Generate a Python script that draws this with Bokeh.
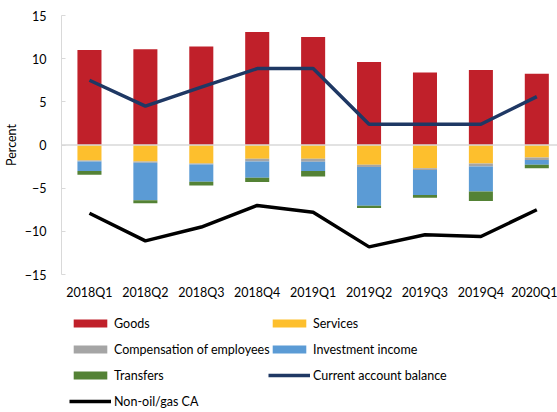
from bokeh.plotting import figure
from bokeh.layouts import column
from bokeh.models import Range1d, FixedTicker, Span, Legend, LegendItem, ColumnDataSource
from bokeh.embed import file_html
from bokeh.resources import INLINE

quarters = ["2018Q1", "2018Q2", "2018Q3", "2018Q4", "2019Q1",
            "2019Q2", "2019Q3", "2019Q4", "2020Q1"]
goods = [11.0, 11.1, 11.4, 13.1, 12.5, 9.6, 8.4, 8.7, 8.25]
services = [-1.8, -1.9, -2.15, -1.6, -1.6, -2.3, -2.7, -2.15, -1.45]
compensation = [-0.1, -0.15, -0.1, -0.3, -0.35, -0.25, -0.2, -0.35, -0.3]
investment = [-1.1, -4.35, -2.0, -1.9, -1.05, -4.5, -2.9, -2.9, -0.55]
transfers = [-0.45, -0.35, -0.45, -0.5, -0.65, -0.25, -0.3, -1.1, -0.4]
ca_balance = [7.5, 4.5, 6.7, 8.85, 8.85, 2.4, 2.4, 2.4, 5.6]
non_oil_ca = [-7.9, -11.1, -9.5, -7.0, -7.8, -11.8, -10.4, -10.6, -7.5]
y_ticks = [-15, -10, -5, 0, 5, 10, 15]

C_GOODS, C_SERV, C_COMP, C_INV, C_TRANS = "#C0202A", "#FDBF2D", "#A5A5A5", "#5B9BD5", "#548235"
C_CA, C_NO = "#1F3864", "#000000"
FONT = "Lato"
FS = "12.5px"

x = list(range(len(quarters)))
src = ColumnDataSource(dict(x=x, goods=goods, services=services,
                            compensation=compensation, investment=investment,
                            transfers=transfers, ca=ca_balance, nonoil=non_oil_ca))

p = figure(width=557, height=304, x_range=Range1d(-0.5, 8.37), y_range=Range1d(-15, 15),
           output_backend="svg", toolbar_location=None,
           min_border_left=58, min_border_top=15, min_border_right=0, min_border_bottom=30)
p.outline_line_color = None
p.xgrid.visible = False
p.ygrid.visible = False

bw = 0.43
p.vbar(x="x", top="goods", bottom=0, width=bw, source=src, fill_color=C_GOODS, line_color=None)
p.vbar_stack(["services", "compensation", "investment", "transfers"], x="x",
             width=bw, source=src, color=[C_SERV, C_COMP, C_INV, C_TRANS], line_color=None)

p.add_layout(Span(location=0, dimension="width", line_color="#D9D9D9", line_width=1.5))

p.line("x", "ca", source=src, line_color=C_CA, line_width=3.5)
p.line("x", "nonoil", source=src, line_color=C_NO, line_width=3.5)

p.xaxis.ticker = FixedTicker(ticks=x)
p.xaxis.major_label_overrides = {i: q for i, q in zip(x, quarters)}
p.xaxis.axis_line_color = None
p.xaxis.major_tick_line_color = None
p.xaxis.minor_tick_line_color = None
p.xaxis.major_tick_out = 0
p.xaxis.major_label_standoff = 10

p.yaxis.ticker = FixedTicker(ticks=y_ticks)
p.yaxis.axis_line_color = "#D9D9D9"
p.yaxis.major_tick_line_color = "#D9D9D9"
p.yaxis.minor_tick_line_color = None
p.yaxis.major_tick_in = 4
p.yaxis.major_tick_out = 0
p.yaxis.major_label_standoff = 15
p.yaxis.axis_label = "Percent"
p.yaxis.axis_label_standoff = 3
p.yaxis.axis_label_text_font_style = "normal"

for ax in (p.xaxis[0], p.yaxis[0]):
    ax.major_label_text_font = FONT
    ax.major_label_text_font_size = FS
    ax.major_label_text_color = "#000000"
    ax.axis_label_text_font = FONT
    ax.axis_label_text_font_size = FS
    ax.axis_label_text_color = "#000000"

# legend panel (separate figure below the chart; its frame aligns with the chart frame)
lf = figure(width=557, height=108, x_range=Range1d(0, 1), y_range=Range1d(0, 1),
            x_axis_type=None, y_axis_type=None, output_backend="svg",
            toolbar_location=None, min_border=0)
lf.outline_line_color = None
lf.xgrid.visible = False
lf.ygrid.visible = False
# off-screen sample so that legend swatches have something to style from
hidden = ColumnDataSource(dict(x=[-10, -9], y=[-10, -10]))

def swatch(color):
    return lf.vbar(x="x", top="y", width=0.1, source=hidden, fill_color=color, line_color=None)

def lswatch(color):
    return lf.line("x", "y", source=hidden, line_color=color, line_width=3.5)

def make_legend(items, loc):
    return Legend(items=items, location=loc, orientation="vertical",
                  glyph_width=42, glyph_height=10, label_standoff=3,
                  label_height=16, spacing=10, padding=0, margin=0,
                  border_line_color=None, background_fill_alpha=0,
                  label_text_font=FONT, label_text_font_size=FS,
                  label_text_color="#000000")

leg1 = make_legend([
    LegendItem(label="Goods", renderers=[swatch(C_GOODS)]),
    LegendItem(label="Compensation of employees", renderers=[swatch(C_COMP)]),
    LegendItem(label="Transfers", renderers=[swatch(C_TRANS)]),
    LegendItem(label="Non-oil/gas CA", renderers=[lswatch(C_NO)]),
], (8, 3))
leg2 = make_legend([
    LegendItem(label="Services", renderers=[swatch(C_SERV)]),
    LegendItem(label="Investment income", renderers=[swatch(C_INV)]),
    LegendItem(label="Current account balance", renderers=[lswatch(C_CA)]),
], (207, 29))
lf.add_layout(leg1)
lf.add_layout(leg2)

layout = column(p, lf, spacing=0)
open("out.html", "w").write(file_html(layout, INLINE))
